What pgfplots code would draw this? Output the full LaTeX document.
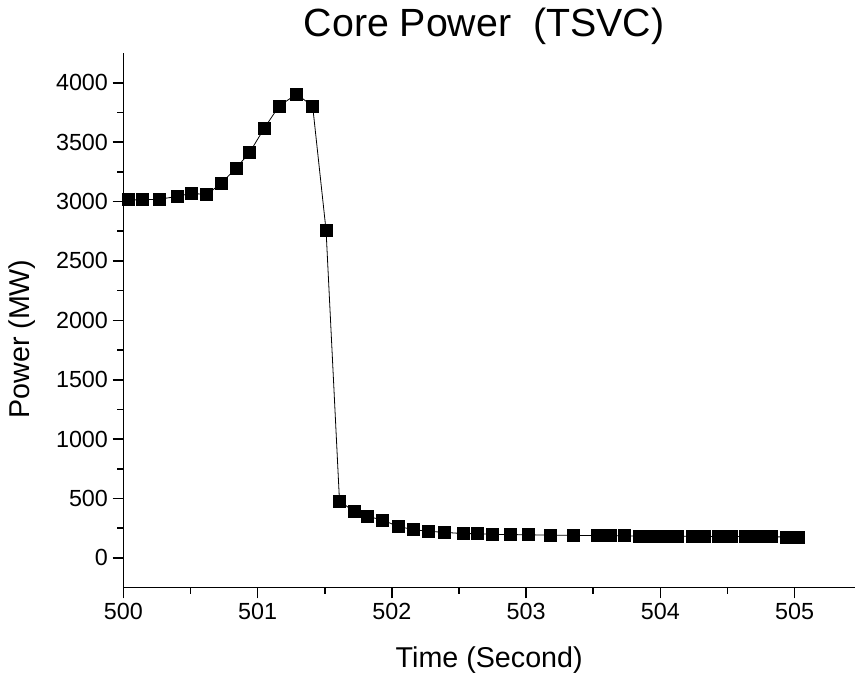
\documentclass[border=0pt]{standalone}
\usepackage{fontspec}
\setmainfont{Liberation Sans}
\usepackage{pgfplots}
\pgfplotsset{compat=1.18}
\pgfplotstableread{
x y
500.04 3014
500.14 3014
500.27 3020
500.40 3042
500.51 3071
500.62 3056
500.73 3155
500.84 3281
500.94 3412
501.05 3617
501.16 3804
501.29 3903
501.41 3804
501.51 2756
501.61 479
501.72 390
501.82 350
501.93 319
502.05 264
502.16 239
502.27 224
502.39 216
502.53 205
502.64 205
502.75 199
502.88 197
503.02 195
503.18 192
503.35 190
503.53 188
503.63 187
503.73 186
503.84 185
503.94 184
504.04 183
504.13 183
504.235 182
504.33 181
504.43 181
504.53 180
504.63 180
504.73 179
504.83 178
504.94 177
505.03 176
}\coredata
\begin{document}
\begin{tikzpicture}
\useasboundingbox (-92.5pt,-69.2pt) rectangle (549.5pt,440.75pt);
\begin{axis}[
  scale only axis,
  width=548.8pt, height=401pt,
  xmin=500, xmax=505.45,
  ymin=-250, ymax=4250,
  axis x line=bottom, axis y line=left,
  axis line style={-, line width=1.2pt},
  tick align=outside,
  tick style={line width=1.2pt, black},
  major tick length=8pt,
  minor tick length=4.5pt,
  xtick={500,501,...,505},
  ytick={0,500,...,4000},
  minor x tick num=1,
  minor y tick num=1,
  /pgf/number format/assume math mode=true,
  /pgf/number format/1000 sep={},
  tick label style={font=\fontsize{17.5}{20}\selectfont},
  title={Core Power\ \ (TSVC)},
  title style={font=\fontsize{29.5}{33}\selectfont, at={(axis description cs:0.493,1)}, anchor=base, yshift=6pt},
  xlabel={Time (Second)},
  xlabel style={font=\fontsize{21.5}{25}\selectfont, at={(axis description cs:0.5,0)}, anchor=center, yshift=-54.2pt},
  ylabel={Power (MW)},
  ylabel style={font=\fontsize{21.5}{25}\selectfont, at={(axis description cs:0,0.465)}, anchor=center, yshift=76pt},
  clip=false,
]
\addplot[black, line width=0.6pt, mark=square*, mark size=4.5pt, mark options={solid, fill=black}] table[x=x, y=y] {\coredata};
\end{axis}
\end{tikzpicture}
\end{document}
